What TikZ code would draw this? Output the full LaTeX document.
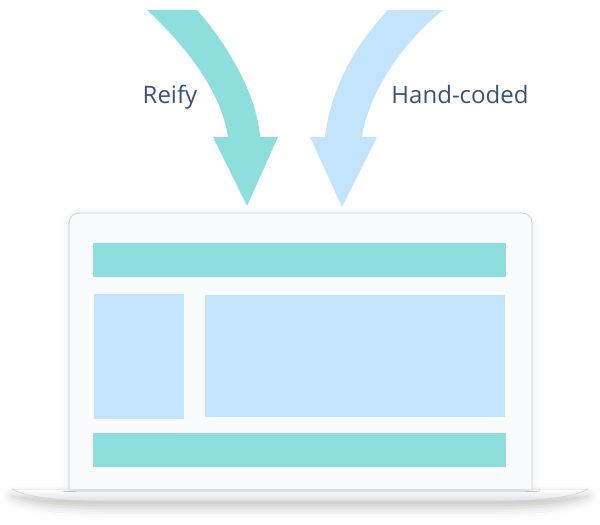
\documentclass[tikz,border=0pt]{standalone}
\usepackage{fontspec}
\setmainfont{Open Sans}
\usepackage{tikz}
\usetikzlibrary{shadows.blur}
\definecolor{reifyteal}{HTML}{8DDEDC}
\definecolor{handblue}{HTML}{C4E4FD}
\definecolor{labelink}{HTML}{3C5176}
\definecolor{screenfill}{HTML}{FAFBFC}
\definecolor{screenline}{HTML}{C9D1DB}
\definecolor{baseshade}{HTML}{DCE2EA}
\tikzset{
  every picture/.append style={line width=0.6pt},
}

\begin{document}
\begin{tikzpicture}[
  x=1pt, y=-1pt,
  flowtext/.style={font=\fontsize{24}{28}\selectfont, text=labelink, anchor=base, inner sep=0pt},
  bigarrow/.style={fill=#1, draw=none},
  block/.style={fill=#1, draw=none},
  laptopbase/.style={top color=white, bottom color=baseshade, draw=screenline, line width=0.5pt,
    blur shadow={shadow xshift=0pt, shadow yshift=-7pt, shadow blur radius=9pt,
      shadow opacity=22}},
  screen/.style={fill=screenfill, rounded corners=10pt,
    blur shadow={shadow xshift=0pt, shadow yshift=-2pt, shadow blur radius=7pt,
      shadow opacity=10}}
]
\useasboundingbox (0,0) rectangle (600,525);

% base of the laptop
\draw[laptopbase] (12,489) -- (588,489)
  .. controls (570,499) and (530,501) .. (495,501) -- (105,501)
  .. controls (70,501) and (30,499) .. (12,489) -- cycle;

% screen
\path[screen] (69,489) -- (69,213) -- (532,213) -- (532,489);
\draw[screenline, line width=0.7pt, rounded corners=10pt]
  (69,489) -- (69,213) -- (532,213) -- (532,489);

% page layout
\fill[block=reifyteal] (93,243) rectangle (506,277);
\fill[block=handblue] (94,294) rectangle (184,419);
\fill[block=handblue] (205,295) rectangle (505,417);
\fill[block=reifyteal] (93,433) rectangle (506,467);

% the two curved arrows
\fill[bigarrow=reifyteal] (147,10) .. controls (190,50) and (222,95) .. (228,137)
  -- (213,137) -- (247,206) -- (278,137) -- (260,137)
  .. controls (257,95) and (228,45) .. (197,10) -- cycle;
\fill[bigarrow=handblue] (443,10) .. controls (400,45) and (368,95) .. (362,137)
  -- (377,137) -- (342,207) -- (310,137) -- (325,137)
  .. controls (330,95) and (350,50) .. (388,10) -- cycle;

\node[flowtext] (reify) at (170,103) {Reify};
\node[flowtext] (handcoded) at (460,103) {Hand-coded};

\end{tikzpicture}
\end{document}
